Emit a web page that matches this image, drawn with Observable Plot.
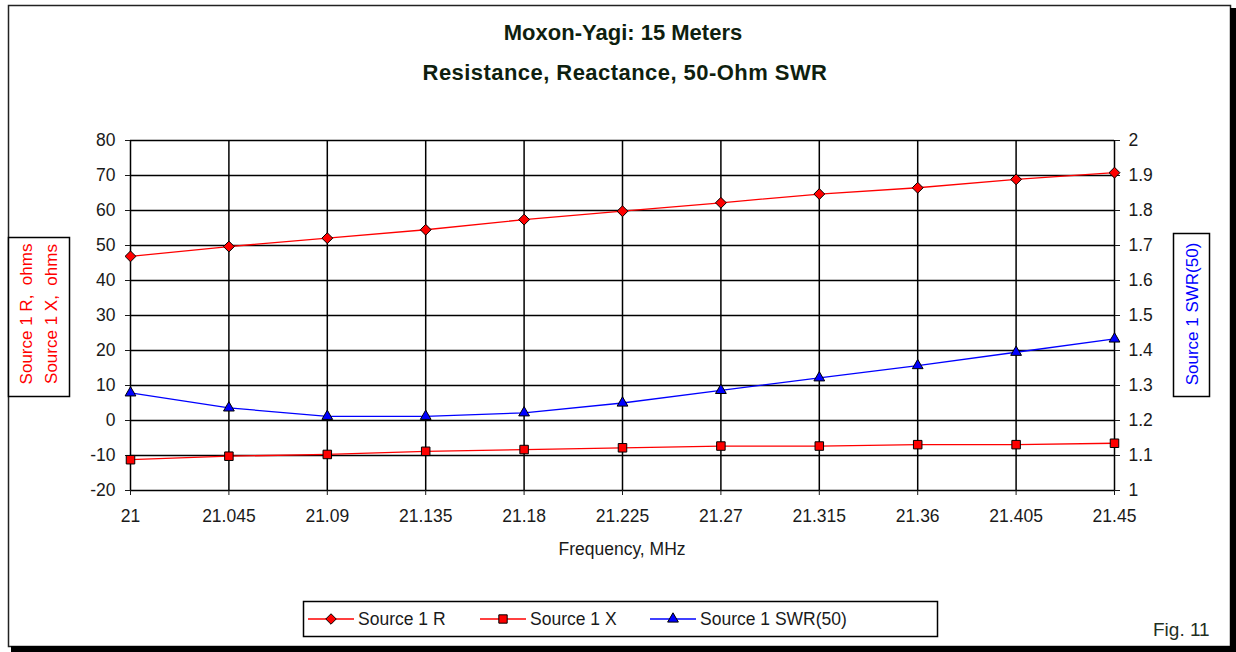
<!DOCTYPE html>
<html>
<head>
<meta charset="utf-8">
<script src="https://cdn.jsdelivr.net/npm/d3@7"></script>
<script src="https://cdn.jsdelivr.net/npm/@observablehq/plot@0.6"></script>
<style>
  html, body { margin: 0; padding: 0; background: #fff; }
  svg text { white-space: pre; }
</style>
</head>
<body>
<div id="chart"></div>
<script>
// ---- data ----
const freqs = [21, 21.045, 21.09, 21.135, 21.18, 21.225, 21.27, 21.315, 21.36, 21.405, 21.45];
const freqLabels = ["21", "21.045", "21.09", "21.135", "21.18", "21.225", "21.27", "21.315", "21.36", "21.405", "21.45"];
const resistance = [46.9, 49.7, 52.1, 54.5, 57.4, 59.8, 62.2, 64.7, 66.5, 68.9, 70.8];
const reactance = [-11.2, -10.2, -9.7, -8.8, -8.3, -7.8, -7.3, -7.3, -6.9, -6.9, -6.5];
const swr = [1.279, 1.236, 1.212, 1.212, 1.222, 1.25, 1.286, 1.322, 1.357, 1.395, 1.433];
const leftTicks = [-20, -10, 0, 10, 20, 30, 40, 50, 60, 70, 80];
const leftTickLabels = ["-20", "-10", "0", "10", "20", "30", "40", "50", "60", "70", "80"];
const rightTickLabels = ["1", "1.1", "1.2", "1.3", "1.4", "1.5", "1.6", "1.7", "1.8", "1.9", "2"];

// SWR shares the left scale: 1 -> -20, 2 -> 80
const swrToLeft = s => (s - 1) * 100 - 20;

const rows = freqs.map((f, i) => ({f, r: resistance[i], x: reactance[i], s: swrToLeft(swr[i])}));

const FONT = "Liberation Sans, Arial, Helvetica, sans-serif";

const plot = Plot.plot({
  width: 1236,
  height: 652,
  marginLeft: 130,
  marginRight: 122,
  marginTop: 140,
  marginBottom: 162,
  style: {fontFamily: FONT, fontSize: "17.5px", color: "#1a1a1a", background: "#fff"},
  x: {domain: [21, 21.45]},
  y: {domain: [-20, 80]},
  marks: [
    Plot.gridX(freqs, {stroke: "#000", strokeOpacity: 1, strokeWidth: 1.5}),
    Plot.gridY(leftTicks, {stroke: "#000", strokeOpacity: 1, strokeWidth: 1.5}),
    Plot.axisX(freqs, {anchor: "bottom", tickSize: 5, tickPadding: 14, label: null,
      tickFormat: d => freqLabels[freqs.indexOf(d)]}),
    Plot.axisY(leftTicks, {anchor: "left", tickSize: 5, tickPadding: 10, label: null,
      tickFormat: d => leftTickLabels[leftTicks.indexOf(d)]}),
    Plot.axisY(leftTicks, {anchor: "right", tickSize: 5, tickPadding: 9, label: null,
      tickFormat: d => rightTickLabels[leftTicks.indexOf(d)]}),
    Plot.line(rows, {x: "f", y: "r", stroke: "#ff0000", strokeWidth: 1.3}),
    Plot.line(rows, {x: "f", y: "x", stroke: "#ff0000", strokeWidth: 1.3}),
    Plot.line(rows, {x: "f", y: "s", stroke: "#0000ff", strokeWidth: 1.3}),
    Plot.dot(rows, {x: "f", y: "r", symbol: "diamond2", r: 4.9, fill: "#ff0000", stroke: "#000", strokeWidth: 1}),
    Plot.dot(rows, {x: "f", y: "x", symbol: "square", r: 4.8, fill: "#ff0000", stroke: "#000", strokeWidth: 1}),
    Plot.dot(rows, {x: "f", y: "s", symbol: "triangle", r: 4, fill: "#0000ff", stroke: "#000", strokeWidth: 1})
  ]
});

document.getElementById("chart").appendChild(plot);

// ---- decorations (frame, titles, label boxes, legend) ----
const svg = d3.select(plot);
const deco = svg.append("g");

// outer frame with shadow
deco.append("rect").attr("x", 8.5).attr("y", 5.5).attr("width", 1222).attr("height", 641)
  .attr("fill", "none").attr("stroke", "#222").attr("stroke-width", 1.5);
deco.append("rect").attr("x", 1230).attr("y", 8).attr("width", 6).attr("height", 644).attr("fill", "#000");
deco.append("rect").attr("x", 11).attr("y", 646).attr("width", 1225).attr("height", 6).attr("fill", "#000");

const txt = (x, y, s, opts = {}) => {
  const t = deco.append("text").attr("x", x).attr("y", y).text(s)
    .attr("font-family", FONT)
    .attr("font-size", opts.size || 17.5)
    .attr("fill", opts.fill || "#1a1a1a")
    .attr("text-anchor", opts.anchor || "start");
  if (opts.weight) t.attr("font-weight", opts.weight);
  if (opts.ls) t.attr("letter-spacing", opts.ls);
  return t;
};

txt(623, 40, "Moxon-Yagi: 15 Meters", {size: 22, weight: "bold", anchor: "middle", fill: "#0f1f0f"});
txt(625, 80, "Resistance, Reactance, 50-Ohm SWR", {size: 22, weight: "bold", anchor: "middle", fill: "#0f1f0f", ls: 0.45});
txt(622, 555, "Frequency, MHz", {anchor: "middle"});
txt(1153, 636, "Fig. 11", {size: 19, fill: "#1f2f1f"});

// left axis title box
deco.append("rect").attr("x", 8.5).attr("y", 237.5).attr("width", 61).attr("height", 159)
  .attr("fill", "#fff").attr("stroke", "#000").attr("stroke-width", 1.5);
const rotText = (cx, cy, s, fill) => {
  deco.append("text").attr("transform", `translate(${cx},${cy}) rotate(-90)`)
    .attr("text-anchor", "middle").attr("dy", "0.35em")
    .attr("font-family", FONT).attr("font-size", 17).attr("fill", fill)
    .text(s);
};
rotText(26, 314, "Source 1 R,  ohms", "#ff0000");
rotText(51, 314, "Source 1 X,  ohms", "#ff0000");

// right axis title box
deco.append("rect").attr("x", 1173.5).attr("y", 233.5).attr("width", 36).attr("height", 163)
  .attr("fill", "#fff").attr("stroke", "#000").attr("stroke-width", 1.5);
rotText(1192, 314, "Source 1 SWR(50)", "#0000ff");

// legend
deco.append("rect").attr("x", 303.5).attr("y", 601.5).attr("width", 634).attr("height", 35)
  .attr("fill", "#fff").attr("stroke", "#000").attr("stroke-width", 1.5);
const legendItems = [
  {x: 308, label: "Source 1 R", color: "#ff0000", sym: d3.symbolDiamond2, size: 70},
  {x: 480, label: "Source 1 X", color: "#ff0000", sym: d3.symbolSquare, size: 70},
  {x: 650, label: "Source 1 SWR(50)", color: "#0000ff", sym: d3.symbolTriangle, size: 50}
];
const ly = 619;
legendItems.forEach(it => {
  deco.append("line").attr("x1", it.x).attr("x2", it.x + 46).attr("y1", ly).attr("y2", ly)
    .attr("stroke", it.color).attr("stroke-width", 1.3);
  deco.append("path").attr("d", d3.symbol(it.sym, it.size)())
    .attr("transform", `translate(${it.x + 23},${ly})`)
    .attr("fill", it.color).attr("stroke", "#000").attr("stroke-width", 1);
  txt(it.x + 50, ly + 6, it.label);
});
</script>
</body>
</html>
